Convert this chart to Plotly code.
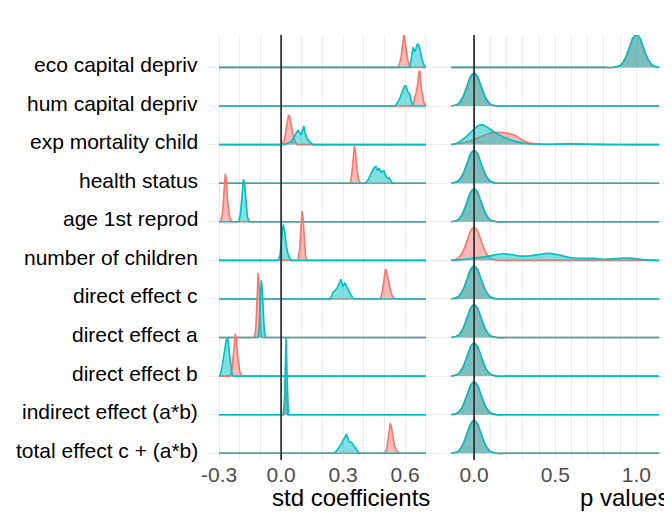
import plotly.graph_objects as go

# ---------------- data ----------------
CATEGORIES = ["eco capital depriv", "hum capital depriv", "exp mortality child",
              "health status", "age 1st reprod", "number of children",
              "direct effect c", "direct effect a", "direct effect b",
              "indirect effect (a*b)", "total effect c + (a*b)"]

# std coefficient ridges: (x, height in row units)
COEF_RED = [
    [(0.568, 0), (0.580, 0.25), (0.588, 0.6), (0.594, 0.86), (0.599, 0.7), (0.605, 0.4), (0.613, 0.18), (0.625, 0)],
    [(0.638, 0), (0.645, 0.2), (0.652, 0.32), (0.660, 0.55), (0.667, 0.9), (0.671, 0.9), (0.680, 0.4), (0.690, 0.1), (0.698, 0)],
    [(0.0, 0), (0.015, 0.1), (0.028, 0.5), (0.036, 0.77), (0.042, 0.72), (0.05, 0.45), (0.058, 0.25), (0.066, 0.1), (0.075, 0)],
    [(0.335, 0), (0.342, 0.25), (0.349, 0.65), (0.355, 0.97), (0.360, 0.8), (0.367, 0.35), (0.375, 0.08), (0.383, 0)],
    [(-0.292, 0), (-0.283, 0.25), (-0.276, 0.8), (-0.270, 1.24), (-0.265, 1.1), (-0.258, 0.5), (-0.250, 0.15), (-0.240, 0)],
    [(0.081, 0), (0.089, 0.25), (0.096, 0.8), (0.101, 1.28), (0.106, 1.1), (0.112, 0.5), (0.118, 0.12), (0.124, 0)],
    [(0.480, 0), (0.490, 0.2), (0.498, 0.5), (0.505, 0.78), (0.510, 0.72), (0.517, 0.56), (0.524, 0.35), (0.532, 0.15), (0.542, 0.04), (0.553, 0)],
    [(-0.128, 0), (-0.122, 0.3), (-0.116, 1.0), (-0.111, 1.68), (-0.107, 1.4), (-0.102, 0.6), (-0.098, 0.15), (-0.093, 0)],
    [(-0.245, 0), (-0.237, 0.2), (-0.229, 0.65), (-0.222, 1.09), (-0.216, 0.95), (-0.209, 0.45), (-0.200, 0.12), (-0.190, 0)],
    [(0.012, 0), (0.017, 0.4), (0.021, 0.9), (0.025, 0.5), (0.031, 0)],
    [(0.502, 0), (0.512, 0.15), (0.520, 0.45), (0.528, 0.78), (0.533, 0.7), (0.540, 0.45), (0.548, 0.2), (0.558, 0.07), (0.574, 0)],
]
COEF_TEAL = [
    [(0.622, 0), (0.630, 0.25), (0.638, 0.52), (0.645, 0.42), (0.650, 0.45), (0.657, 0.58), (0.664, 0.60), (0.672, 0.45), (0.682, 0.2), (0.692, 0.05), (0.698, 0)],
    [(0.552, 0), (0.57, 0.15), (0.585, 0.35), (0.597, 0.52), (0.605, 0.52), (0.612, 0.38), (0.622, 0.30), (0.630, 0.12), (0.640, 0)],
    [(0.005, 0), (0.03, 0.03), (0.05, 0.08), (0.062, 0.2), (0.072, 0.3), (0.082, 0.38), (0.090, 0.3), (0.097, 0.25), (0.104, 0.38), (0.110, 0.48), (0.116, 0.3), (0.124, 0.18), (0.135, 0.08), (0.145, 0.03), (0.155, 0)],
    [(0.407, 0), (0.42, 0.08), (0.432, 0.2), (0.442, 0.33), (0.448, 0.39), (0.458, 0.43), (0.466, 0.33), (0.474, 0.39), (0.482, 0.29), (0.490, 0.3), (0.497, 0.33), (0.504, 0.22), (0.510, 0.15), (0.518, 0.12), (0.523, 0.14), (0.530, 0.06), (0.539, 0)],
    [(-0.205, 0), (-0.197, 0.2), (-0.190, 0.7), (-0.182, 1.1), (-0.177, 1.0), (-0.170, 0.45), (-0.163, 0.12), (-0.155, 0)],
    [(-0.013, 0), (-0.005, 0.15), (0.003, 0.55), (0.010, 0.93), (0.016, 0.8), (0.022, 0.45), (0.028, 0.28), (0.036, 0.12), (0.048, 0)],
    [(0.234, 0), (0.244, 0.08), (0.252, 0.18), (0.262, 0.22), (0.272, 0.3), (0.282, 0.42), (0.290, 0.51), (0.297, 0.33), (0.302, 0.35), (0.308, 0.42), (0.316, 0.32), (0.326, 0.24), (0.336, 0.12), (0.345, 0.04), (0.351, 0)],
    [(-0.112, 0), (-0.106, 0.3), (-0.100, 1.0), (-0.096, 1.48), (-0.092, 1.3), (-0.087, 0.6), (-0.081, 0.15), (-0.075, 0)],
    [(-0.296, 0), (-0.287, 0.2), (-0.276, 0.6), (-0.265, 0.95), (-0.259, 1.0), (-0.252, 0.7), (-0.245, 0.3), (-0.238, 0.08), (-0.232, 0)],
    [(0.010, 0), (0.016, 0.3), (0.020, 1.0), (0.024, 2.0), (0.028, 1.2), (0.031, 0.4), (0.035, 0)],
    [(0.255, 0), (0.268, 0.06), (0.280, 0.15), (0.292, 0.25), (0.302, 0.36), (0.310, 0.42), (0.316, 0.5), (0.322, 0.38), (0.328, 0.3), (0.336, 0.29), (0.344, 0.26), (0.352, 0.18), (0.360, 0.12), (0.368, 0.05), (0.378, 0)],
]

# p value ridges
P_NEAR_ZERO = [(-0.14, 0), (-0.10, 0.05), (-0.07, 0.22), (-0.04, 0.55), (-0.02, 0.77), (0.0, 0.855),
               (0.02, 0.77), (0.04, 0.55), (0.07, 0.22), (0.10, 0.05), (0.14, 0), (0.2, 0)]
P_NEAR_ONE = [(0.80, 0), (0.86, 0), (0.90, 0.05), (0.93, 0.22), (0.96, 0.55), (0.98, 0.77), (1.0, 0.84),
              (1.02, 0.77), (1.04, 0.55), (1.07, 0.22), (1.10, 0.05), (1.14, 0)]
P_MORT_RED = [(-0.14, 0), (-0.10, 0.02), (-0.05, 0.06), (0.0, 0.13), (0.05, 0.22), (0.10, 0.30), (0.15, 0.32),
              (0.20, 0.30), (0.25, 0.24), (0.29, 0.14), (0.33, 0.06), (0.37, 0.025), (0.42, 0.01), (0.50, 0.015),
              (0.58, 0.03), (0.66, 0.015), (0.75, 0.005), (0.82, 0), (1.14, 0)]
P_MORT_TEAL = [(-0.14, 0), (-0.10, 0.05), (-0.05, 0.2), (0.0, 0.4), (0.03, 0.5), (0.05, 0.51), (0.08, 0.45),
               (0.12, 0.34), (0.17, 0.22), (0.22, 0.13), (0.27, 0.07), (0.32, 0.03), (0.38, 0.015), (0.50, 0.01),
               (0.60, 0.015), (0.70, 0.01), (0.85, 0.003), (0.95, 0), (1.14, 0)]
P_CHILD_TEAL = [(-0.14, 0), (-0.08, 0.02), (-0.02, 0.05), (0.04, 0.08), (0.09, 0.11), (0.14, 0.15), (0.18, 0.17),
                (0.23, 0.15), (0.29, 0.11), (0.35, 0.12), (0.41, 0.16), (0.46, 0.18), (0.51, 0.15), (0.56, 0.1),
                (0.61, 0.06), (0.68, 0.05), (0.74, 0.05), (0.80, 0.03), (0.86, 0.04), (0.92, 0.06), (0.98, 0.05),
                (1.04, 0.02), (1.09, 0.005), (1.14, 0)]
PVAL_RED = [P_NEAR_ONE, P_NEAR_ZERO, P_MORT_RED, P_NEAR_ZERO, P_NEAR_ZERO, P_NEAR_ZERO,
            P_NEAR_ZERO, P_NEAR_ZERO, P_NEAR_ZERO, P_NEAR_ZERO, P_NEAR_ZERO]
PVAL_TEAL = [P_NEAR_ONE, P_NEAR_ZERO, P_MORT_TEAL, P_NEAR_ZERO, P_NEAR_ZERO, P_CHILD_TEAL,
             P_NEAR_ZERO, P_NEAR_ZERO, P_NEAR_ZERO, P_NEAR_ZERO, P_NEAR_ZERO]

COEF_SPAN = (-0.3, 0.7)
PVAL_SPAN = (-0.14, 1.14)
COEF_GRID = [-0.3, -0.2, -0.1, 0.0, 0.1, 0.2, 0.3, 0.4, 0.5, 0.6, 0.7]
COEF_LABELS = ["-0.3", "", "", "0.0", "", "", "0.3", "", "", "0.6", ""]
PVAL_GRID = [0.0, 0.1, 0.2, 0.3, 0.4, 0.5, 0.6, 0.7, 0.8, 0.9, 1.0]
PVAL_LABELS = ["0.0", "", "", "", "", "0.5", "", "", "", "", "1.0"]

# ---------------- styling ----------------
RED_LINE, RED_FILL = "#F8766D", "rgba(248,118,109,0.5)"
TEAL_LINE, TEAL_FILL = "#00BFC4", "rgba(0,191,196,0.5)"
GRID = "#EBEBEB"
FONT = "Liberation Sans, Arial, sans-serif"

# page offset (browser body margin) and figure size
OFFX, OFFY = 11, 8
W, H = 672 - 8, 514 - 8


def PX(px):
    return (px - OFFX) / W


def PY(py):
    return 1 - (py - OFFY) / H


fig = go.Figure()
n = len(CATEGORIES)


def ridge(pts, k, span, xa, line, fill, spline):
    xs = [p[0] for p in pts]
    hs = [p[1] for p in pts]
    if xs[0] > span[0]:
        xs = [span[0]] + xs
        hs = [0] + hs
    if xs[-1] < span[1]:
        xs = xs + [span[1]]
        hs = hs + [0]
    fig.add_trace(go.Scatter(
        x=xs, y=[k + h for h in hs], mode="lines", fill="toself", fillcolor=fill,
        line=dict(color=line, width=1.6, shape="spline" if spline else "linear", smoothing=0.8),
        xaxis=xa, yaxis="y" if xa == "x" else "y2", showlegend=False, hoverinfo="skip"))


for i in range(n):
    k = n - 1 - i
    ridge(COEF_RED[i], k, COEF_SPAN, "x", RED_LINE, RED_FILL, False)
    ridge(COEF_TEAL[i], k, COEF_SPAN, "x", TEAL_LINE, TEAL_FILL, False)
    ridge(PVAL_RED[i], k, PVAL_SPAN, "x2", RED_LINE, RED_FILL, True)
    ridge(PVAL_TEAL[i], k, PVAL_SPAN, "x2", TEAL_LINE, TEAL_FILL, True)

yrange = [-0.174, 10.84]
ydom = [PY(460), PY(35)]

axis_common = dict(showgrid=True, gridcolor=GRID, gridwidth=1.2, zeroline=False, showline=False,
                   ticks="", tickfont=dict(family=FONT, size=21, color="#4D4D4D"), fixedrange=True)

fig.update_layout(
    width=W, height=H, margin=dict(l=0, r=0, t=0, b=0, pad=0),
    paper_bgcolor="white", plot_bgcolor="white", showlegend=False,
    font=dict(family=FONT),
    xaxis=dict(domain=[PX(206), PX(440)], range=[-0.354, 0.766], tickmode="array",
               tickvals=COEF_GRID, ticktext=COEF_LABELS, anchor="y", **axis_common),
    xaxis2=dict(domain=[PX(442), PX(672)], range=[-0.201, 1.201], tickmode="array",
                tickvals=PVAL_GRID, ticktext=PVAL_LABELS, anchor="y2", **axis_common),
    yaxis=dict(domain=ydom, range=yrange, tickmode="array", tickvals=list(range(n)),
               showticklabels=False, anchor="x", **axis_common),
    yaxis2=dict(domain=ydom, range=yrange, tickmode="array", tickvals=list(range(n)),
                showticklabels=False, anchor="x2", matches="y", **axis_common),
)

# zero reference lines
for xr, yr in (("x", "y domain"), ("x2", "y2 domain")):
    fig.add_shape(type="line", xref=xr, yref=yr, x0=0, x1=0, y0=0, y1=1,
                  line=dict(color="#333333", width=1.8), layer="above")

# category labels
for i, name in enumerate(CATEGORIES):
    fig.add_annotation(text=name, x=PX(198), xref="paper", xanchor="right",
                       y=n - 1 - i, yref="y", yanchor="middle", yshift=3, showarrow=False,
                       font=dict(family=FONT, size=21, color="black"))

# axis titles
fig.add_annotation(text="std coefficients", x=PX(351), xref="paper", xanchor="center",
                   y=PY(497), yref="paper", yanchor="middle", showarrow=False,
                   font=dict(family=FONT, size=24, color="black"))
fig.add_annotation(text="p values", x=PX(580), xref="paper", xanchor="left",
                   y=PY(497), yref="paper", yanchor="middle", showarrow=False,
                   font=dict(family=FONT, size=24, color="black"))

fig.write_html("out.html")
